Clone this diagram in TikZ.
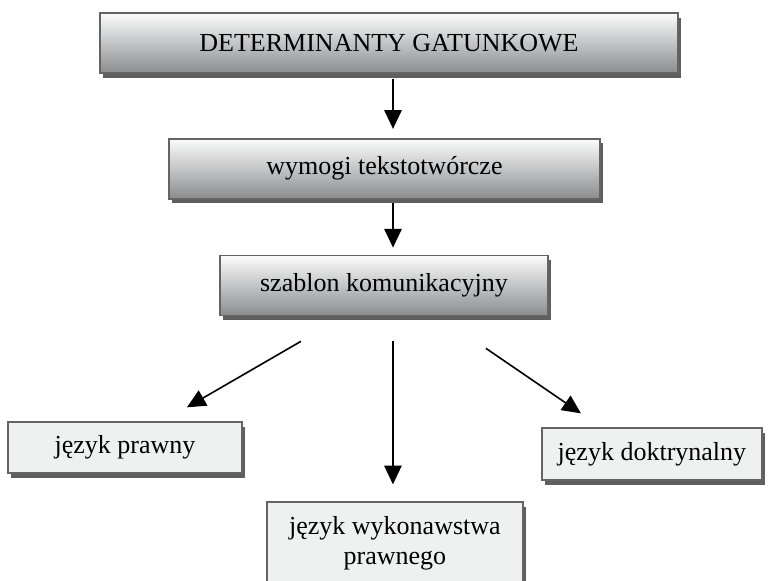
\documentclass[tikz,border=0pt]{standalone}
\usepackage{fontspec}
\setmainfont{Liberation Serif}
\usepackage{tikz}
\usetikzlibrary{arrows.meta,positioning,calc,shadows}
\definecolor{boxline}{RGB}{100,100,100}
\definecolor{boxtop}{RGB}{252,252,252}
\definecolor{boxbottom}{RGB}{138,140,142}
\definecolor{boxshadow}{RGB}{95,95,95}
\definecolor{plainfill}{RGB}{239,240,240}
\tikzset{
    basebox/.style={
        draw=boxline,
        line width=1.3pt,
        align=center,
        inner sep=0pt,
        font=\fontsize{19.5}{22.5}\selectfont,
        drop shadow={shadow xshift=2.6pt, shadow yshift=-3.4pt, fill=boxshadow, opacity=1}
    },
    gradbox/.style={
        basebox,
        top color=boxtop,
        bottom color=boxbottom,
        minimum height=45pt
    },
    plainbox/.style={
        basebox,
        fill=plainfill
    },
    arrow/.style={
        -{Triangle[length=14pt, width=13pt]},
        line width=1.2pt,
        draw=black
    }
}
\begin{document}
\begin{tikzpicture}
    \useasboundingbox (0,0) rectangle (577.5pt,-435.75pt);
    \node[gradbox, minimum width=433.5pt] (determ) at (291.75pt,-32.25pt) {DETERMINANTY GATUNKOWE};
    \node[gradbox, minimum width=323.25pt, below=48pt of determ, xshift=-3.4pt] (wymogi) {wymogi tekstotwórcze};
    \node[gradbox, minimum width=246pt, below=41.25pt of wymogi, xshift=-0.4pt] (szablon) {szablon komunikacyjny};
    \node[plainbox, minimum width=175.5pt, minimum height=38.25pt,
          below=78.75pt of szablon, xshift=-194.25pt] (prawny) {język prawny};
    \node[plainbox, minimum width=165pt, minimum height=39pt,
          below=83.25pt of szablon, xshift=201pt] (doktr) {język doktrynalny};
    \node[plainbox, minimum width=192pt, minimum height=62.25pt,
          below=138.75pt of szablon, xshift=8.25pt] (wykon) {język wykonawstwa\\prawnego};

    \draw[arrow] ([xshift=3pt,yshift=-3.6pt]determ.south) -- ([xshift=6.4pt,yshift=6.75pt]wymogi.north);
    \draw[arrow] ([xshift=6.4pt,yshift=-2.5pt]wymogi.south) -- ([xshift=6.8pt,yshift=5.25pt]szablon.north);
    \draw[arrow] ($(szablon.south)+(-62.25pt,-18.75pt)$) -- ($(prawny.north)+(46.5pt,10.5pt)$);
    \draw[arrow] ($(szablon.south)+(6.75pt,-18.75pt)$) -- ($(wykon.north)+(-1.5pt,12.75pt)$);
    \draw[arrow] ($(szablon.south)+(76.5pt,-24pt)$) -- ($(doktr.north)+(-53.25pt,10.5pt)$);
\end{tikzpicture}
\end{document}
